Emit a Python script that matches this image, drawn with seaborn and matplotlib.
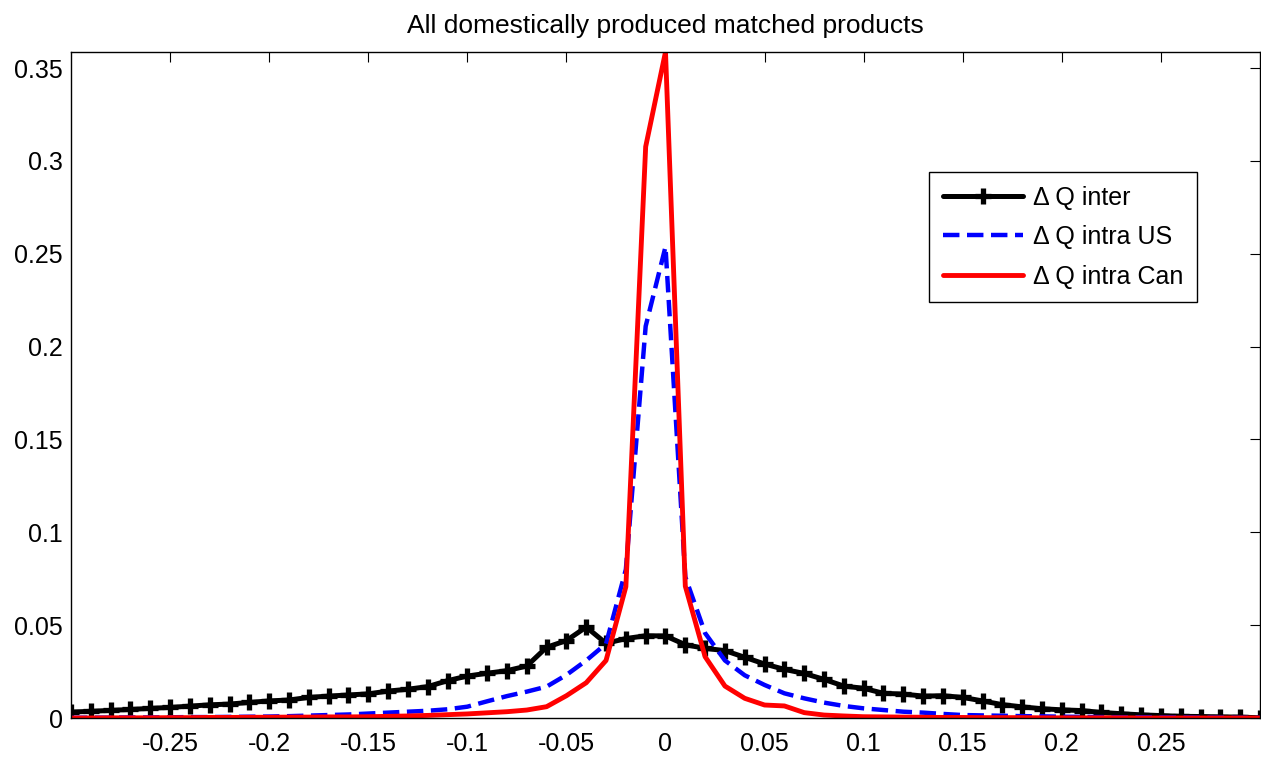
import numpy as np
import matplotlib
matplotlib.use("Agg")
import matplotlib.pyplot as plt
import seaborn as sns

TITLE = "All domestically produced matched products"
X_GRID = np.arange(-30, 31) / 100

DQ_INTER = [
    0.0032, 0.0036, 0.0041, 0.0046, 0.0052, 0.0057, 0.0064, 0.0071, 0.0075, 0.0084,
    0.0092, 0.0097, 0.0111, 0.0118, 0.0124, 0.0130, 0.0145, 0.0155, 0.0169, 0.0201,
    0.0226, 0.0241, 0.0255, 0.0280, 0.0381, 0.0417, 0.0490, 0.0402, 0.0428, 0.0443,
    0.0442,
    0.0395, 0.0375, 0.0363, 0.0327, 0.0291, 0.0262, 0.0240, 0.0208, 0.0172, 0.0160,
    0.0133, 0.0129, 0.0118, 0.0120, 0.0111, 0.0092, 0.0072, 0.0060, 0.0050, 0.0044,
    0.0040, 0.0030, 0.0023, 0.0017, 0.0013, 0.0009, 0.0008, 0.0006, 0.0005, 0.0001,
]
DQ_INTRA_US = [
    0.0001, 0.0002, 0.0002, 0.0003, 0.0003, 0.0004, 0.0005, 0.0005, 0.0006, 0.0007,
    0.0008, 0.0010, 0.0013, 0.0016, 0.0019, 0.0024, 0.0029, 0.0034, 0.0039, 0.0047,
    0.0061, 0.0090, 0.0118, 0.0142, 0.0169, 0.0232, 0.0310, 0.0400, 0.0800, 0.2110,
    0.2538,
    0.0760, 0.0457, 0.0310, 0.0230, 0.0178, 0.0133, 0.0106, 0.0083, 0.0065, 0.0052,
    0.0043, 0.0034, 0.0029, 0.0022, 0.0016, 0.0014, 0.0012, 0.0010, 0.0009, 0.0007,
    0.0006, 0.0005, 0.0004, 0.0004, 0.0003, 0.0003, 0.0002, 0.0002, 0.0001, 0.0001,
]
DQ_INTRA_CAN = [
    0.0000, 0.0000, 0.0001, 0.0001, 0.0001, 0.0002, 0.0002, 0.0003, 0.0003, 0.0004,
    0.0004, 0.0005, 0.0005, 0.0006, 0.0006, 0.0007, 0.0009, 0.0011, 0.0014, 0.0018,
    0.0022, 0.0028, 0.0034, 0.0043, 0.0061, 0.0120, 0.0190, 0.0310, 0.0707, 0.3077,
    0.3587,
    0.0710, 0.0330, 0.0172, 0.0106, 0.0070, 0.0065, 0.0029, 0.0016, 0.0011, 0.0007,
    0.0006, 0.0005, 0.0004, 0.0003, 0.0003, 0.0002, 0.0002, 0.0002, 0.0001, 0.0001,
    0.0001, 0.0001, 0.0001, 0.0000, 0.0000, 0.0000, 0.0000, 0.0000, 0.0000, 0.0000,
]

X_TICKS = [-0.25, -0.2, -0.15, -0.1, -0.05, 0, 0.05, 0.1, 0.15, 0.2, 0.25]
X_TICK_LABELS = ["-0.25", "-0.2", "-0.15", "-0.1", "-0.05", "0", "0.05", "0.1", "0.15", "0.2", "0.25"]
Y_TICKS = [0, 0.05, 0.1, 0.15, 0.2, 0.25, 0.3, 0.35]
Y_TICK_LABELS = ["0", "0.05", "0.1", "0.15", "0.2", "0.25", "0.3", "0.35"]

sns.set_style("white")
plt.rcParams["font.family"] = ["Liberation Sans", "DejaVu Sans"]
plt.rcParams["text.color"] = "black"

fig = plt.figure(figsize=(12.61, 7.59), dpi=100)
ax = fig.add_axes([0.0563, 0.054, 0.9429, 0.8775])

sns.lineplot(x=X_GRID, y=DQ_INTER, ax=ax, color="black", linewidth=3.6,
             marker="+", markersize=12, markeredgewidth=3.8, markeredgecolor="black",
             label="\u0394 Q inter")
sns.lineplot(x=X_GRID, y=DQ_INTRA_US, ax=ax, color="#0000ff", linewidth=3.2,
             linestyle=(0, (3.7, 1.7)), label="\u0394 Q intra US")
sns.lineplot(x=X_GRID, y=DQ_INTRA_CAN, ax=ax, color="#ff0000", linewidth=3.5,
             label="\u0394 Q intra Can")

ax.set_xlim(-0.3, 0.3)
ax.set_ylim(0, 0.3587)
ax.set_xticks(X_TICKS)
ax.set_xticklabels(X_TICK_LABELS)
ax.set_yticks(Y_TICKS)
ax.set_yticklabels(Y_TICK_LABELS)
ax.tick_params(direction="in", length=7, width=0.8, top=True, right=True,
               labelsize=18, colors="black")
ax.tick_params(axis="x", pad=10)
ax.tick_params(axis="y", pad=6)
for sp in ax.spines.values():
    sp.set_visible(True)
    sp.set_color("black")
    sp.set_linewidth(1)

ax.set_title(TITLE, fontsize=19, pad=14, color="black")

leg = ax.legend(loc="upper right", bbox_to_anchor=(0.947, 0.82), fontsize=18,
                frameon=True, fancybox=False, edgecolor="black", framealpha=1,
                handlelength=3.2, borderpad=0.55, labelspacing=0.62, handletextpad=0.4,
                borderaxespad=0, labelcolor="black")
leg.get_frame().set_linewidth(1)

fig.savefig("out.png", dpi=100)
